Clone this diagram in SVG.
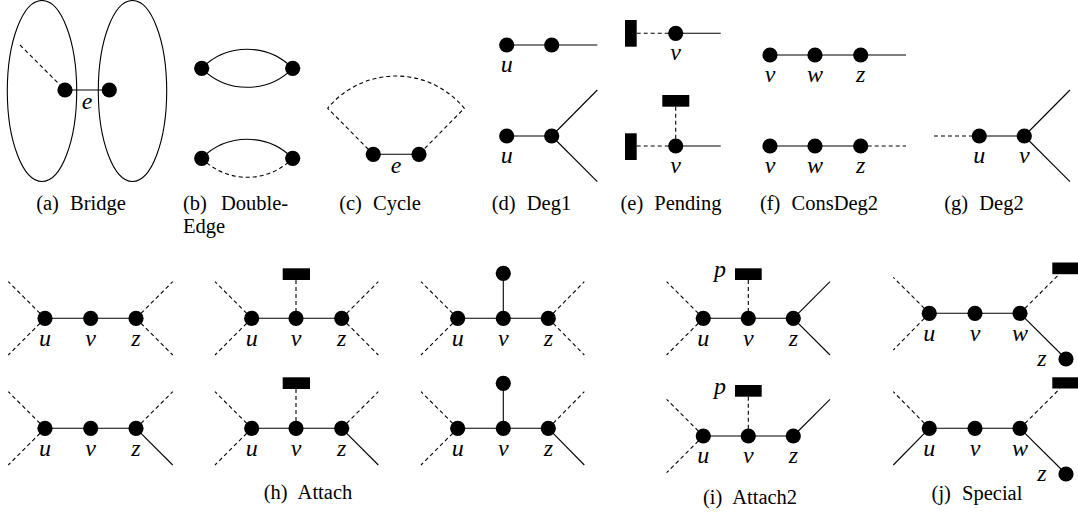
<svg xmlns="http://www.w3.org/2000/svg" width="1078" height="517" viewBox="0 0 1078 517">
<style>
.s{stroke:#000;stroke-width:1.1;fill:none}
.d{stroke:#000;stroke-width:1.1;fill:none;stroke-dasharray:4 3}
.n{fill:#000}
.l{font-family:"Liberation Serif",serif;font-style:italic;font-size:24px;text-anchor:middle;fill:#000}
.c{font-family:"Liberation Serif",serif;font-size:20.5px;word-spacing:6px;fill:#000}
.m{text-anchor:middle}
</style>
<rect width="1078" height="517" fill="#fff"/>
<g id="connectors">
<!-- a -->
<line class="s" x1="65" y1="90" x2="109.3" y2="90"/>
<line class="d" x1="20" y1="45" x2="65" y2="90"/>
<!-- b -->
<path class="s" d="M201.7,68.3 A64,64 0 0 1 292.7,68.3"/>
<path class="s" d="M201.7,68.3 A64,64 0 0 0 292.7,68.3"/>
<path class="s" d="M201.7,158.3 A64,64 0 0 1 292.7,158.3"/>
<path class="d" d="M201.7,158.3 A64,64 0 0 0 292.7,158.3"/>
<!-- c -->
<line class="s" x1="373.3" y1="154.3" x2="419" y2="154.3"/>
<path class="d" d="M373.3,154.3 L327.7,108.3 A88.4,88.4 0 0 1 464.3,108.3 L419,154.3"/>
<!-- d -->
<line class="s" x1="506.7" y1="45" x2="597.3" y2="45"/>
<line class="s" x1="506.7" y1="136" x2="551.7" y2="136"/>
<line class="s" x1="551.7" y1="136" x2="597.3" y2="90"/>
<line class="s" x1="551.7" y1="136" x2="597.3" y2="181.7"/>
<!-- e -->
<line class="d" x1="636.7" y1="33.3" x2="675.7" y2="33.3"/>
<line class="s" x1="675.7" y1="33.3" x2="720.7" y2="33.3"/>
<line class="d" x1="636.7" y1="146" x2="675.7" y2="146"/>
<line class="d" x1="675.7" y1="106.7" x2="675.7" y2="146"/>
<line class="s" x1="675.7" y1="146" x2="720.7" y2="146"/>
<!-- f -->
<line class="s" x1="770" y1="55" x2="906" y2="55"/>
<line class="s" x1="770" y1="146" x2="860.7" y2="146"/>
<line class="d" x1="860.7" y1="146" x2="906" y2="146"/>
<!-- g -->
<line class="d" x1="934" y1="136" x2="979.3" y2="136"/>
<line class="s" x1="979.3" y1="136" x2="1024.3" y2="136"/>
<line class="s" x1="1024.3" y1="136" x2="1070" y2="90"/>
<line class="s" x1="1024.3" y1="136" x2="1070" y2="181.7"/>
<!-- h1 top -->
<line class="s" x1="45" y1="318.3" x2="136" y2="318.3"/>
<line class="d" x1="45" y1="318.3" x2="8.3" y2="281.7"/>
<line class="d" x1="45" y1="318.3" x2="8.3" y2="355"/>
<line class="d" x1="136" y1="318.3" x2="172.7" y2="281.7"/>
<line class="d" x1="136" y1="318.3" x2="172.7" y2="355"/>
<!-- h1 bottom -->
<line class="s" x1="45" y1="428.3" x2="136" y2="428.3"/>
<line class="d" x1="45" y1="428.3" x2="8.3" y2="391.7"/>
<line class="d" x1="45" y1="428.3" x2="8.3" y2="465"/>
<line class="d" x1="136" y1="428.3" x2="172.7" y2="391.7"/>
<line class="s" x1="136" y1="428.3" x2="172.7" y2="465"/>
<!-- h2 top -->
<line class="s" x1="251.7" y1="318.3" x2="341.7" y2="318.3"/>
<line class="d" x1="296" y1="280" x2="296" y2="318.3"/>
<line class="d" x1="251.7" y1="318.3" x2="215" y2="281.7"/>
<line class="d" x1="251.7" y1="318.3" x2="215" y2="355"/>
<line class="d" x1="341.7" y1="318.3" x2="378.3" y2="281.7"/>
<line class="d" x1="341.7" y1="318.3" x2="378.3" y2="355"/>
<!-- h2 bottom -->
<line class="s" x1="251.7" y1="428.3" x2="341.7" y2="428.3"/>
<line class="d" x1="296" y1="389" x2="296" y2="428.3"/>
<line class="d" x1="251.7" y1="428.3" x2="215" y2="391.7"/>
<line class="d" x1="251.7" y1="428.3" x2="215" y2="465"/>
<line class="d" x1="341.7" y1="428.3" x2="378.3" y2="391.7"/>
<line class="s" x1="341.7" y1="428.3" x2="378.3" y2="465"/>
<!-- h3 top -->
<line class="s" x1="457.7" y1="318.3" x2="548.3" y2="318.3"/>
<line class="s" x1="503.3" y1="273.3" x2="503.3" y2="318.3"/>
<line class="d" x1="457.7" y1="318.3" x2="421" y2="281.7"/>
<line class="d" x1="457.7" y1="318.3" x2="421" y2="355"/>
<line class="d" x1="548.3" y1="318.3" x2="584.3" y2="281.7"/>
<line class="d" x1="548.3" y1="318.3" x2="584.3" y2="355"/>
<!-- h3 bottom -->
<line class="s" x1="457.7" y1="428.3" x2="548.3" y2="428.3"/>
<line class="s" x1="503.3" y1="383.3" x2="503.3" y2="428.3"/>
<line class="d" x1="457.7" y1="428.3" x2="421" y2="391.7"/>
<line class="d" x1="457.7" y1="428.3" x2="421" y2="465"/>
<line class="d" x1="548.3" y1="428.3" x2="584.3" y2="391.7"/>
<line class="s" x1="548.3" y1="428.3" x2="584.3" y2="465"/>
<!-- i top -->
<line class="s" x1="703.3" y1="318.3" x2="793.3" y2="318.3"/>
<line class="d" x1="748.3" y1="280" x2="748.3" y2="318.3"/>
<line class="d" x1="703.3" y1="318.3" x2="666.6" y2="281.6"/>
<line class="d" x1="703.3" y1="318.3" x2="666.6" y2="355"/>
<line class="s" x1="793.3" y1="318.3" x2="830" y2="281.6"/>
<line class="s" x1="793.3" y1="318.3" x2="830" y2="355"/>
<!-- i bottom -->
<line class="s" x1="703.3" y1="436" x2="793.3" y2="436"/>
<line class="d" x1="748.3" y1="396.7" x2="748.3" y2="436"/>
<line class="d" x1="703.3" y1="436" x2="666.6" y2="399.3"/>
<line class="d" x1="703.3" y1="436" x2="666.6" y2="472.7"/>
<line class="s" x1="793.3" y1="436" x2="830" y2="399.3"/>
<!-- j top -->
<line class="s" x1="929.3" y1="313.3" x2="1020" y2="313.3"/>
<line class="d" x1="929.3" y1="313.3" x2="893.3" y2="277.3"/>
<line class="d" x1="929.3" y1="313.3" x2="893.3" y2="350"/>
<line class="d" x1="1020" y1="313.3" x2="1060" y2="273.3"/>
<line class="s" x1="1020" y1="313.3" x2="1066" y2="359"/>
<!-- j bottom -->
<line class="s" x1="929.3" y1="428.3" x2="1020" y2="428.3"/>
<line class="d" x1="929.3" y1="428.3" x2="893.3" y2="391.7"/>
<line class="s" x1="929.3" y1="428.3" x2="893.3" y2="465"/>
<line class="d" x1="1020" y1="428.3" x2="1060" y2="388.5"/>
<line class="s" x1="1020" y1="428.3" x2="1066" y2="474"/>
</g>

<!-- (a) Bridge -->
<g id="a-left-part"><ellipse class="s" cx="42" cy="91" rx="34.7" ry="90.5"/></g>
<g id="a-right-part"><ellipse class="s" cx="132.5" cy="91" rx="34.2" ry="90.5"/></g>
<g id="a-n1"><circle class="n" cx="65" cy="90" r="7.6"/></g>
<g id="a-n2"><circle class="n" cx="109.3" cy="90" r="7.6"/></g>
<text class="l" x="87" y="109">e</text>

<!-- (b) Double-Edge -->
<g id="b-n1"><circle class="n" cx="201.7" cy="68.3" r="7.6"/></g>
<g id="b-n2"><circle class="n" cx="292.7" cy="68.3" r="7.6"/></g>
<g id="b-n3"><circle class="n" cx="201.7" cy="158.3" r="7.6"/></g>
<g id="b-n4"><circle class="n" cx="292.7" cy="158.3" r="7.6"/></g>

<!-- (c) Cycle -->
<g id="c-n1"><circle class="n" cx="373.3" cy="154.3" r="7.6"/></g>
<g id="c-n2"><circle class="n" cx="419" cy="154.3" r="7.6"/></g>
<text class="l" x="396" y="173">e</text>

<!-- (d) Deg1 -->
<g id="d-u1"><circle class="n" cx="506.7" cy="45" r="7.6"/><text class="l" x="506.7" y="72">u</text></g>
<g id="d-n1"><circle class="n" cx="551.7" cy="45" r="7.6"/></g>
<g id="d-u2"><circle class="n" cx="506.7" cy="136" r="7.6"/><text class="l" x="506.7" y="163">u</text></g>
<g id="d-n2"><circle class="n" cx="551.7" cy="136" r="7.6"/></g>

<!-- (e) Pending -->
<g id="e-p1"><rect class="n" x="625" y="20" width="11.7" height="26.7"/></g>
<g id="e-v1"><circle class="n" cx="675.7" cy="33.3" r="7.6"/><text class="l" x="675.7" y="60">v</text></g>
<g id="e-p2"><rect class="n" x="625" y="133.3" width="11.7" height="26.7"/></g>
<g id="e-p3"><rect class="n" x="662.3" y="95" width="27" height="11.7"/></g>
<g id="e-v2"><circle class="n" cx="675.7" cy="146" r="7.6"/><text class="l" x="675.7" y="173">v</text></g>

<!-- (f) ConsDeg2 -->
<g id="f-v1"><circle class="n" cx="770" cy="55" r="7.6"/><text class="l" x="770" y="82">v</text></g>
<g id="f-w1"><circle class="n" cx="815" cy="55" r="7.6"/><text class="l" x="815" y="82">w</text></g>
<g id="f-z1"><circle class="n" cx="860.7" cy="55" r="7.6"/><text class="l" x="860.7" y="82">z</text></g>
<g id="f-v2"><circle class="n" cx="770" cy="146" r="7.6"/><text class="l" x="770" y="173">v</text></g>
<g id="f-w2"><circle class="n" cx="815" cy="146" r="7.6"/><text class="l" x="815" y="173">w</text></g>
<g id="f-z2"><circle class="n" cx="860.7" cy="146" r="7.6"/><text class="l" x="860.7" y="173">z</text></g>

<!-- (g) Deg2 -->
<g id="g-u"><circle class="n" cx="979.3" cy="136" r="7.6"/><text class="l" x="979.3" y="163">u</text></g>
<g id="g-v"><circle class="n" cx="1024.3" cy="136" r="7.6"/><text class="l" x="1024.3" y="163">v</text></g>

<!-- (h) Attach -->
<g id="h1-u"><circle class="n" cx="45" cy="318.3" r="7.6"/><text class="l" x="45" y="345.5">u</text></g>
<g id="h1-v"><circle class="n" cx="90.7" cy="318.3" r="7.6"/><text class="l" x="90.7" y="345.5">v</text></g>
<g id="h1-z"><circle class="n" cx="136" cy="318.3" r="7.6"/><text class="l" x="136" y="345.5">z</text></g>
<g id="h4-u"><circle class="n" cx="45" cy="428.3" r="7.6"/><text class="l" x="45" y="455.5">u</text></g>
<g id="h4-v"><circle class="n" cx="90.7" cy="428.3" r="7.6"/><text class="l" x="90.7" y="455.5">v</text></g>
<g id="h4-z"><circle class="n" cx="136" cy="428.3" r="7.6"/><text class="l" x="136" y="455.5">z</text></g>

<g id="h2-p"><rect class="n" x="282.7" y="268.3" width="27.3" height="11.7"/></g>
<g id="h2-u"><circle class="n" cx="251.7" cy="318.3" r="7.6"/><text class="l" x="251.7" y="345.5">u</text></g>
<g id="h2-v"><circle class="n" cx="296" cy="318.3" r="7.6"/><text class="l" x="296" y="345.5">v</text></g>
<g id="h2-z"><circle class="n" cx="341.7" cy="318.3" r="7.6"/><text class="l" x="341.7" y="345.5">z</text></g>
<g id="h5-p"><rect class="n" x="282.7" y="377.3" width="27.3" height="11.7"/></g>
<g id="h5-u"><circle class="n" cx="251.7" cy="428.3" r="7.6"/><text class="l" x="251.7" y="455.5">u</text></g>
<g id="h5-v"><circle class="n" cx="296" cy="428.3" r="7.6"/><text class="l" x="296" y="455.5">v</text></g>
<g id="h5-z"><circle class="n" cx="341.7" cy="428.3" r="7.6"/><text class="l" x="341.7" y="455.5">z</text></g>

<g id="h3-t"><circle class="n" cx="503.3" cy="273.3" r="7.6"/></g>
<g id="h3-u"><circle class="n" cx="457.7" cy="318.3" r="7.6"/><text class="l" x="457.7" y="345.5">u</text></g>
<g id="h3-v"><circle class="n" cx="503.3" cy="318.3" r="7.6"/><text class="l" x="503.3" y="345.5">v</text></g>
<g id="h3-z"><circle class="n" cx="548.3" cy="318.3" r="7.6"/><text class="l" x="548.3" y="345.5">z</text></g>
<g id="h6-t"><circle class="n" cx="503.3" cy="383.3" r="7.6"/></g>
<g id="h6-u"><circle class="n" cx="457.7" cy="428.3" r="7.6"/><text class="l" x="457.7" y="455.5">u</text></g>
<g id="h6-v"><circle class="n" cx="503.3" cy="428.3" r="7.6"/><text class="l" x="503.3" y="455.5">v</text></g>
<g id="h6-z"><circle class="n" cx="548.3" cy="428.3" r="7.6"/><text class="l" x="548.3" y="455.5">z</text></g>

<!-- (i) Attach2 -->
<g id="i1-p"><rect class="n" x="735" y="268.3" width="26.7" height="11.7"/><text class="l" x="720" y="277">p</text></g>
<g id="i1-u"><circle class="n" cx="703.3" cy="318.3" r="7.6"/><text class="l" x="703.3" y="346">u</text></g>
<g id="i1-v"><circle class="n" cx="748.3" cy="318.3" r="7.6"/><text class="l" x="748.3" y="346">v</text></g>
<g id="i1-z"><circle class="n" cx="793.3" cy="318.3" r="7.6"/><text class="l" x="793.3" y="346">z</text></g>
<g id="i2-p"><rect class="n" x="735" y="385" width="26.7" height="11.7"/><text class="l" x="720" y="394">p</text></g>
<g id="i2-u"><circle class="n" cx="703.3" cy="436" r="7.6"/><text class="l" x="703.3" y="463">u</text></g>
<g id="i2-v"><circle class="n" cx="748.3" cy="436" r="7.6"/><text class="l" x="748.3" y="463">v</text></g>
<g id="i2-z"><circle class="n" cx="793.3" cy="436" r="7.6"/><text class="l" x="793.3" y="463">z</text></g>

<!-- (j) Special -->
<g id="j1-u"><circle class="n" cx="929.3" cy="313.3" r="7.6"/><text class="l" x="929.3" y="340.5">u</text></g>
<g id="j1-v"><circle class="n" cx="975" cy="313.3" r="7.6"/><text class="l" x="975" y="340.5">v</text></g>
<g id="j1-w"><circle class="n" cx="1020" cy="313.3" r="7.6"/><text class="l" x="1020" y="340.5">w</text></g>
<g id="j1-p"><rect class="n" x="1052.3" y="262.5" width="27" height="11.7"/></g>
<g id="j1-z"><circle class="n" cx="1066" cy="359" r="7.6"/><text class="l" x="1042" y="366">z</text></g>
<g id="j2-u"><circle class="n" cx="929.3" cy="428.3" r="7.6"/><text class="l" x="929.3" y="456">u</text></g>
<g id="j2-v"><circle class="n" cx="975" cy="428.3" r="7.6"/><text class="l" x="975" y="456">v</text></g>
<g id="j2-w"><circle class="n" cx="1020" cy="428.3" r="7.6"/><text class="l" x="1020" y="456">w</text></g>
<g id="j2-p"><rect class="n" x="1052.3" y="377.3" width="27" height="11.2"/></g>
<g id="j2-z"><circle class="n" cx="1066" cy="474" r="7.6"/><text class="l" x="1042" y="481">z</text></g>

<g id="captions">
<text class="c m" x="81" y="210">(a) Bridge</text>
<text class="c" y="210"><tspan x="183">(b)</tspan><tspan x="221">Double-</tspan></text>
<text class="c" x="183" y="233">Edge</text>
<text class="c m" x="380" y="210">(c) Cycle</text>
<text class="c m" x="531.5" y="210">(d) Deg1</text>
<text class="c m" x="671" y="210">(e) Pending</text>
<text class="c m" x="819" y="210">(f) ConsDeg2</text>
<text class="c m" x="984" y="210">(g) Deg2</text>
<text class="c m" x="308" y="499">(h) Attach</text>
<text class="c m" x="750" y="504">(i) Attach2</text>
<text class="c m" x="977" y="500">(j) Special</text>
</g>
</svg>
